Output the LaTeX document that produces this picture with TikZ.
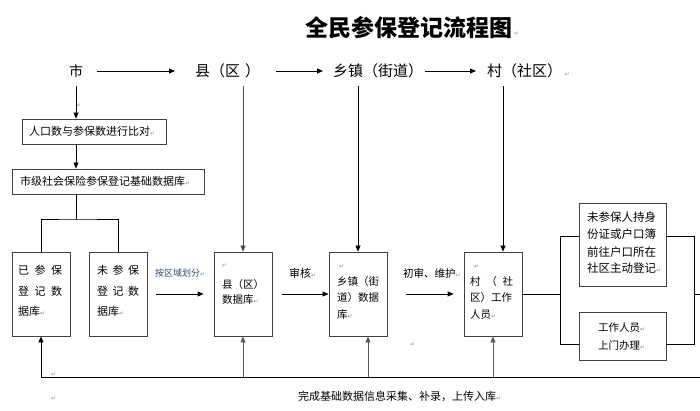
\documentclass[tikz,border=0pt]{standalone}
\usepackage{fontspec}
\setmainfont{Noto Sans CJK SC}
\newfontfamily\dvs{DejaVu Sans}
\usetikzlibrary{arrows.meta,calc}
\definecolor{lblue}{HTML}{2B4A6F}
\newcommand{\retm}{{\dvs\fontsize{6}{6}\selectfont\textcolor{black!45}{↵}}}
\begin{document}
\begin{tikzpicture}[x=1pt,y=-1pt,
  bx/.style={draw=black!75,line width=0.8pt,inner sep=0pt},
  ln/.style={line width=0.8pt,black},
  arr/.style={ln,-{Triangle[length=6pt,width=5pt]}},
  txt/.style={inner sep=0pt,anchor=west},
  fnine/.style={font=\fontsize{9}{10}\selectfont},
  ften/.style={font=\fontsize{10.5}{12}\selectfont},
  felev/.style={font=\fontsize{11}{13}\selectfont},
  felevh/.style={font=\fontsize{11.5}{13}\selectfont},
  fforty/.style={font=\fontsize{14}{16}\selectfont},
  ffif/.style={font=\fontsize{15}{17}\selectfont},
  ftitle/.style={font=\fontsize{23}{26}\selectfont\bfseries},
  toplab/.style={inner sep=0pt,ffif,anchor=west,align=left}
]
\useasboundingbox (0,0) rectangle (700,411);

% title
\node[txt,ftitle] (title) at (305,28) {全民参保登记流程图};
\node[txt] (rt) at (514,34) {\retm};

% top row
\node[inner sep=0pt,fforty] (shi) at (76,71) {市};
\node[toplab,text width=81pt] (xian) at (195,71) {县（区 ）};
\node[toplab,text width=92pt] (xiang) at (333,71) {乡镇（街道）};
\node[toplab] (cunl) at (487,71) {村（社区）\,\retm};
\node[txt] (rs) at (76,106) {\retm};

% boxes
\node[bx,minimum width=144pt,minimum height=25pt] (cmp) at (94,131.5) {};
\node[bx,minimum width=192pt,minimum height=25pt] (cdb) at (108,181.5) {};
\node[bx,minimum width=58pt,minimum height=84pt] (ydb) at (41,294) {};
\node[bx,minimum width=58pt,minimum height=84pt] (wdb) at (118,294) {};
\node[bx,minimum width=58pt,minimum height=84pt] (xdb) at (243,294) {};
\node[bx,minimum width=58pt,minimum height=84pt] (zdb) at (358,294) {};
\node[bx,minimum width=58pt,minimum height=84pt] (cun) at (493,294) {};
\node[bx,minimum width=87pt,minimum height=83pt] (self) at (622.5,244.5) {};
\node[bx,minimum width=87pt,minimum height=48pt] (door) at (622.5,336) {};

% box texts
\node[txt,felev] (t1) at (29,131.5) {人口数与参保数进行比对\retm};
\node[txt,felev] (t2) at (20,181.5) {市级社会保险参保登记基础数据库\retm};

\node[txt,felev] (a1) at (18,270) {\makebox[44pt][s]{已\hfill 参\hfill 保}};
\node[txt,felev] (a2) at (18,291) {\makebox[44pt][s]{登\hfill 记\hfill 数}};
\node[txt,felev] (a3) at (18,311) {据库\retm};

\node[txt,felev] (b1) at (97,270) {\makebox[42pt][s]{未\hfill 参\hfill 保}};
\node[txt,felev] (b2) at (97,291) {\makebox[42pt][s]{登\hfill 记\hfill 数}};
\node[txt,felev] (b3) at (97,311) {据库\retm};

\node[txt] (c0) at (222,266) {\retm};
\node[txt,ften] (c1) at (222,285) {县（区）};
\node[txt,ften] (c2) at (222,300) {数据库\retm};

\node[txt] (d0) at (339,267) {\retm};
\node[txt,ften] (d1) at (337,282) {乡镇（街};
\node[txt,ften] (d2) at (337,298) {道）数据};
\node[txt,ften] (d3) at (337,315) {库\retm};

\node[txt] (e0) at (474,267) {\retm};
\node[txt,ften] (e1) at (470,282) {\makebox[43pt][s]{村\hfill （\hfill 社}};
\node[txt,ften] (e2) at (470,298) {区）工作};
\node[txt,ften] (e3) at (470,315) {人员\retm};

\node[txt,felevh] (f1) at (587,217) {未参保人持身};
\node[txt,felevh] (f2) at (587,234) {份证或户口簿};
\node[txt,felevh] (f3) at (587,252) {前往户口所在};
\node[txt,felevh] (f4) at (587,268) {社区主动登记\retm};

\node[txt,ften] (g1) at (598,328) {工作人员\retm};
\node[txt,ften] (g2) at (598,346) {上门办理\retm};

% edge labels
\node[txt,fnine,text=lblue] (l1) at (155,273) {按区域划分\retm};
\node[txt,felev] (l2) at (289,273) {审核\retm};
\node[txt,ften] (l3) at (403,273) {初审、维护\retm};
\node[txt] (r4) at (410,345) {\retm};
\node[txt] (r5) at (51,375) {\retm};
\node[txt] (r6) at (51,399) {\retm};
\node[txt,felev] (bot) at (298,396) {完成基础数据信息采集、补录，上传入库\retm};

% top arrows
\draw[arr,shorten <=14pt,shorten >=20pt] (shi.east) -- (xian.west);
\draw[arr,shorten >=10pt] (xian.east) -- (xiang.west);
\draw[arr,shorten >=11pt] (xiang.east) -- (cunl.west);

% vertical from labels
\draw[arr,shorten <=8pt] (shi.south) -- (cmp.north -| shi.south);
\draw[arr] (cmp.south -| shi) -- (cdb.north -| shi);
\coordinate (split) at (76,219);
\draw[ln] (cdb.south -| shi) -- (split);
\draw[ln] (ydb.north) |- (split) -| (wdb.north);

\draw[arr,black!70,shorten <=8pt] (xdb.north |- xian.south) -- (xdb.north);
\draw[arr,shorten <=8pt] (zdb.north |- xiang.south) -- (zdb.north);
\coordinate (cuntop) at ([xshift=10pt]cun.north);
\draw[arr,shorten <=8pt] (cuntop |- cunl.south) -- (cuntop);

% horizontal between boxes
\draw[arr,shorten <=9pt,shorten >=10pt] (wdb.east) -- (xdb.west);
\draw[arr,shorten <=10pt] (xdb.east) -- (zdb.west);
\draw[arr,shorten <=19pt,shorten >=10pt] (zdb.east) -- (cun.west);

% branch to the two ways
\coordinate (lj1) at (560,236);
\coordinate (lj2) at (560,344);
\coordinate (rj1) at (694,236);
\coordinate (rj2) at (694,344);
\coordinate (rmid) at (694,294);
\coordinate (rout) at (700,294);
\draw[ln] (cun.east) -- (cun.east -| lj1);
\draw[ln] (self.west |- lj1) -- (lj1) -- (lj2) -- (door.west |- lj2);
\draw[ln] (self.east |- rj1) -- (rj1) -- (rj2) -- (door.east |- rj2);
\draw[ln] (rmid) -- (rout);

% bottom feedback
\coordinate (bl) at (41,377);
\coordinate (br) at (700,377);
\draw[ln] (bl) -- (br);
\draw[arr] (bl) -- (ydb.south);
\draw[arr,black!65] (xdb.south |- bl) -- (xdb.south);
\coordinate (zbot) at ([xshift=10pt]zdb.south);
\draw[arr,black!65] (zbot |- bl) -- (zbot);
\draw[arr,black!65] (cun.south |- bl) -- (cun.south);
\end{tikzpicture}
\end{document}
